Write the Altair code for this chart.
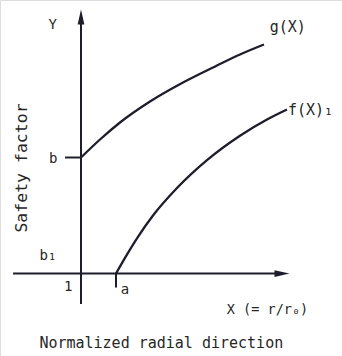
import altair as alt
import pandas as pd

# Curve g(X): starts at (1, b) on the Y axis
g_x = [1.00, 1.19, 1.39, 1.69, 2.02, 2.36, 2.59, 2.83]
g_y = [1.16, 1.34, 1.51, 1.72, 1.91, 2.08, 2.19, 2.29]

# Curve f(X)_1: starts at (a, 0) on the X axis
f_x = [1.35, 1.44, 1.56, 1.72, 1.96, 2.26, 2.59, 2.86, 3.06]
f_y = [0.00, 0.157, 0.352, 0.58, 0.855, 1.134, 1.378, 1.54, 1.64]

# Key abscissae / ordinates
x_one = 1.0      # X = 1 (r = r0), where the Y axis stands
x_a = 1.35       # X = a
y_b = 1.16       # Y = b

# Axis extents
x_axis_from, x_axis_to = 0.32, 2.95
y_axis_from, y_axis_to = -0.305, 2.52

INK = "#1d1d2b"
TEXT_INK = "#262626"
FONT = "DejaVu Sans Mono"

x_scale = alt.Scale(domain=[0.19, 3.61], nice=False, zero=False)
y_scale = alt.Scale(domain=[-0.825, 2.735], nice=False, zero=False)

curves = pd.DataFrame(
    {"X": g_x + f_x, "Y": g_y + f_y,
     "curve": ["g"] * len(g_x) + ["f"] * len(f_x)}
)

segments = pd.DataFrame({
    "x": [x_axis_from, x_one, 0.84, x_a],
    "x2": [x_axis_to, x_one, x_one, x_a],
    "y": [0.0, y_axis_from, y_b, 0.0],
    "y2": [0.0, y_axis_to, y_b, -0.14],
})

up_arrow = pd.DataFrame({"x": [x_one], "y": [2.565]})
right_arrow = pd.DataFrame({"x": [3.01], "y": [0.0]})

# Small labels on the axes and curves
labels = pd.DataFrame({
    "x": [0.717, 0.723, 0.67, 0.873, 1.44, 3.067],
    "y": [2.485, 1.145, 0.175, -0.135, -0.165, 2.465],
    "text": ["Y", "b", "b₁", "1", "a", "g(X)"],
    "size": [14, 14, 14, 14, 14, 15],
})

base_x = alt.X("x:Q", scale=x_scale, axis=None)
base_y = alt.Y("y:Q", scale=y_scale, axis=None)

lines = alt.Chart(curves).mark_line(
    interpolate="monotone", color=INK, strokeWidth=2.3
).encode(
    x=alt.X("X:Q", scale=x_scale, axis=None),
    y=alt.Y("Y:Q", scale=y_scale, axis=None),
    detail="curve:N",
)

rules = alt.Chart(segments).mark_rule(color=INK, strokeWidth=2).encode(
    x=base_x, x2="x2:Q", y=base_y, y2="y2:Q"
)

head_up = alt.Chart(up_arrow).mark_point(
    shape="M0,-1L0.45,1L-0.45,1Z", filled=True, opacity=1, color=INK, size=225
).encode(x=base_x, y=base_y)

head_right = alt.Chart(right_arrow).mark_point(
    shape="M1,0L-1,0.45L-1,-0.45Z", filled=True, opacity=1, color=INK, size=225
).encode(x=base_x, y=base_y)

texts = alt.Chart(labels).mark_text(
    font=FONT, color=TEXT_INK, align="center", baseline="middle"
).encode(
    x=base_x, y=base_y, text="text:N",
    size=alt.Size("size:Q", scale=None, legend=None),
)


def one_label(x, y, text, size, **kw):
    return alt.Chart(pd.DataFrame({"x": [x], "y": [y], "text": [text]})).mark_text(
        font=FONT, fontSize=size, color=TEXT_INK, baseline="middle", **kw
    ).encode(x=base_x, y=base_y, text="text:N")


f_label = one_label(3.07, 1.635, "f(X)₁", 15, align="left")
x_label = one_label(2.865, -0.36, "X (= r/r₀)", 13.5, align="center")
x_title = one_label(1.803, -0.695, "Normalized radial direction", 15, align="center")
y_title = one_label(0.407, 1.055, "Safety factor", 16.5, align="center", angle=270)

chart = alt.layer(
    lines, rules, head_up, head_right, texts, f_label, x_label, x_title, y_title
).properties(
    width=342, height=356, padding=0,
    autosize=alt.AutoSizeParams(type="none"),
).configure_view(stroke=None).configure(background="white")

chart.save("out.html", embed_options={"renderer": "svg", "actions": False})
